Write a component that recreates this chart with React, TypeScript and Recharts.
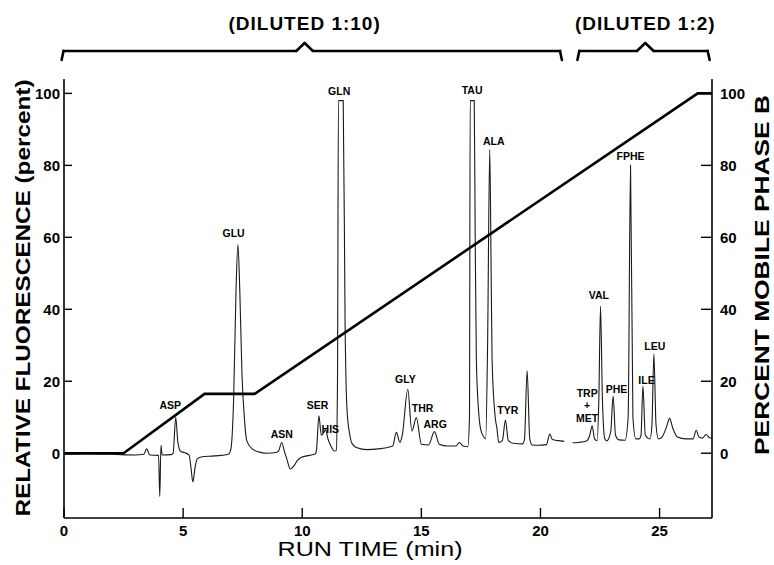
import { ComposedChart, Line, XAxis, YAxis, ReferenceLine, ReferenceDot } from "recharts";

const xTicks = [0, 5, 10, 15, 20, 25];
const yTicks = [0, 20, 40, 60, 80, 100];

// fluorescence trace, [run time (min), relative fluorescence (%)]; null = gap between the two injections
const trace: [number, number | null][] = [
  [0, -0.3], [1.0, -0.2], [2.0, -0.3], [3.0, -0.5], [3.35, -0.3], [3.47, 1.2], [3.6, -0.5],
  [3.97, -0.6], [4.02, -12], [4.07, 2.2], [4.12, -0.5], [4.5, -0.4],
  [4.58, 0], [4.69, 10], [4.78, 3], [4.9, 0.5], [5.05, 0.2],
  [5.25, -0.5], [5.33, -4], [5.41, -8], [5.5, -4], [5.6, -1.5], [5.8, -1], [6.2, -0.8], [6.6, -0.6], [6.9, -0.3],
  [7.0, 1], [7.12, 15], [7.22, 45], [7.3, 58], [7.38, 45], [7.47, 22], [7.58, 9], [7.67, 3.5], [7.9, 1.2], [8.2, 0.3],
  [8.5, 0], [8.9, 0.2], [9.0, 0.5], [9.14, 3], [9.25, 0.5], [9.35, -1.5], [9.5, -4.4], [9.65, -3.5],
  [9.8, -2], [9.95, -1.2], [10.3, -0.6], [10.55, -0.2],
  [10.6, 1], [10.7, 10.4], [10.8, 5], [10.88, 5.5], [10.98, 6.5], [11.08, 4], [11.2, 2], [11.35, 0.6], [11.43, 0.8],
  [11.48, 20], [11.52, 98], [11.72, 98], [11.8, 35], [11.88, 12], [12.0, 5], [12.1, 2.6], [12.3, 1.5],
  [12.7, 1.0], [13.2, 1.2], [13.7, 1.8], [13.8, 2], [13.95, 5.8], [14.1, 3],
  [14.2, 5], [14.43, 17.8], [14.6, 6.2], [14.79, 9.9], [15.0, 2.5],
  [15.3, 2.3], [15.55, 6], [15.75, 2.5], [16.1, 2], [16.45, 2], [16.6, 3], [16.75, 2], [16.95, 1.8],
  [17.02, 10], [17.05, 98], [17.22, 98], [17.26, 60], [17.31, 25.6], [17.4, 12], [17.48, 7], [17.62, 4.5],
  [17.7, 4], [17.78, 30], [17.87, 84.4], [17.93, 50], [17.97, 25.6], [18.1, 10], [18.17, 7], [18.25, 3],
  [18.4, 3.5], [18.53, 9.2], [18.65, 3.5], [18.9, 2.7], [19.25, 2.6],
  [19.33, 4], [19.44, 23], [19.55, 4], [19.65, 2.3], [19.9, 2.2], [20.25, 2.4],
  [20.39, 5.3], [20.5, 3.8], [20.75, 3.5], [21.0, 3.3], [21.15, null],
  [21.35, 2.9], [21.6, 3], [21.95, 3.5], [22.07, 5], [22.17, 7.6], [22.27, 4], [22.38, 3.5],
  [22.45, 15], [22.52, 40.8], [22.6, 15], [22.7, 4], [22.78, 3.4],
  [22.95, 6], [23.05, 15.9], [23.15, 5], [23.3, 3.7], [23.55, 3.6],
  [23.68, 10], [23.78, 80], [23.88, 10], [24.0, 4], [24.15, 4],
  [24.22, 5], [24.3, 18.7], [24.4, 5], [24.6, 4], [24.68, 8], [24.76, 27.6], [24.85, 8], [24.95, 4],
  [25.1, 4.5], [25.3, 7.5], [25.42, 9.7], [25.55, 7], [25.75, 4.5], [26.1, 4], [26.4, 4],
  [26.54, 6.4], [26.65, 4.5], [26.8, 4.2], [26.95, 5.2], [27.1, 4.3], [27.2, 4.2],
];

// gradient programme, [run time (min), percent mobile phase B]
const gradient: [number, number][] = [
  [0, 0], [2.5, 0], [5.9, 16.5], [8, 16.5], [26.6, 100], [27.2, 100],
];

// peak names, [label, time, height of label]
const peakLabels: [string, number, number][] = [
  ["ASP", 4.46, 13.4], ["GLU", 7.12, 61], ["ASN", 9.14, 5.2], ["SER", 10.64, 13.2], ["HIS", 11.18, 6.6],
  ["GLN", 11.55, 100.6], ["GLY", 14.33, 20.6], ["THR", 15.05, 12.4], ["ARG", 15.58, 8],
  ["TAU", 17.13, 100.8], ["ALA", 18.04, 86.8], ["TYR", 18.63, 11.8],
  ["TRP", 21.96, 16.8], ["+", 21.96, 13.2], ["MET", 21.96, 9.8],
  ["VAL", 22.45, 43.8], ["PHE", 23.19, 17.9], ["FPHE", 23.78, 82.6], ["ILE", 24.45, 20.2], ["LEU", 24.8, 29.8],
];

// sample dilution brackets, [from, to, middle (min)]
const brackets: [number, number, number][] = [
  [-0.1, 20.9, 10.1],
  [21.55, 27.1, 24.4],
];
const bracketTitles = ["(DILUTED  1:10)", "(DILUTED  1:2)"];

const traceData = trace.map(([t, v]) => ({ t, v }));
const gradientData = gradient.map(([t, b]) => ({ t, b }));

const FONT = "'Liberation Sans', Arial, Helvetica, sans-serif";
const DOMAIN: [number, number] = [-18, 104];

function bracketSegments(from: number, to: number, mid: number) {
  const lo = 109.3, hi = 111.8, top = 114;
  const pts = [
    [from, lo], [from + 0.08, hi], [mid - 0.35, hi], [mid, top], [mid + 0.35, hi], [to - 0.08, hi], [to, lo],
  ];
  return pts.slice(1).map((p, i) => [
    { x: pts[i][0], y: pts[i][1] },
    { x: p[0], y: p[1] },
  ]);
}

export default function App() {
  return (
    <div style={{ position: "fixed", left: 0, top: 0, width: 774, height: 565, background: "#fff", fontFamily: FONT }}>
      <ComposedChart width={774} height={565} margin={{ top: 79, right: 2, bottom: 17, left: 4 }}>
        <XAxis
          type="number"
          dataKey="t"
          domain={[0, 27.2]}
          ticks={xTicks}
          allowDataOverflow
          height={30}
          tickSize={-10}
          tickMargin={17}
          axisLine={{ stroke: "#000", strokeWidth: 1.6 }}
          tickLine={{ stroke: "#000", strokeWidth: 1.4 }}
          tick={{ fill: "#000", fontSize: 15, fontWeight: 700, fontFamily: FONT }}
        />
        <YAxis
          yAxisId="left"
          domain={DOMAIN}
          ticks={yTicks}
          allowDataOverflow
          width={60}
          tickSize={-8}
          tickMargin={12}
          axisLine={{ stroke: "#000", strokeWidth: 1.6 }}
          tickLine={{ stroke: "#000", strokeWidth: 1.4 }}
          tick={{ fill: "#000", fontSize: 15, fontWeight: 700, fontFamily: FONT }}
        />
        <YAxis
          yAxisId="right"
          orientation="right"
          domain={DOMAIN}
          ticks={yTicks}
          allowDataOverflow
          width={60}
          tickSize={-11}
          tickMargin={19}
          axisLine={{ stroke: "#000", strokeWidth: 1.6 }}
          tickLine={{ stroke: "#000", strokeWidth: 1.4 }}
          tick={{ fill: "#000", fontSize: 15, fontWeight: 700, fontFamily: FONT }}
        />
        <Line
          yAxisId="left"
          data={traceData}
          dataKey="v"
          type="monotone"
          stroke="#1a1a1a"
          strokeWidth={1.1}
          dot={false}
          connectNulls={false}
          isAnimationActive={false}
        />
        <Line
          yAxisId="right"
          data={gradientData}
          dataKey="b"
          type="linear"
          stroke="#000"
          strokeWidth={2.6}
          dot={false}
          isAnimationActive={false}
        />
        {brackets.map(([from, to, mid], bi) =>
          bracketSegments(from, to, mid).map((seg, si) => (
            <ReferenceLine
              key={`b${bi}-${si}`}
              yAxisId="left"
              segment={seg}
              ifOverflow="visible"
              stroke="#000"
              strokeWidth={2.6}
              strokeLinecap="round"
            />
          ))
        )}
        {peakLabels.map(([name, t, y]) => (
          <ReferenceDot
            key={name}
            yAxisId="left"
            x={t}
            y={y}
            r={0}
            fill="none"
            stroke="none"
            ifOverflow="visible"
            label={{ value: name, position: "center", fontSize: 10.5, fontWeight: 700, fill: "#000", fontFamily: FONT }}
          />
        ))}
        {brackets.map(([, , mid], i) => (
          <ReferenceDot
            key={`title${i}`}
            yAxisId="left"
            x={mid}
            y={119.5}
            r={0}
            fill="none"
            stroke="none"
            ifOverflow="visible"
            label={{ value: bracketTitles[i], position: "center", fontSize: 19, fontWeight: 600, fill: "#000", fontFamily: FONT, letterSpacing: 1 }}
          />
        ))}
      </ComposedChart>
      <svg width={774} height={565} style={{ position: "absolute", left: 0, top: 0, pointerEvents: "none" }}>
        <text
          x={0}
          y={0}
          transform="translate(30 298) rotate(-90)"
          textAnchor="middle"
          fontSize={21}
          fontWeight={700}
          fontFamily={FONT}
          textLength={437}
          lengthAdjust="spacingAndGlyphs"
        >
          RELATIVE  FLUORESCENCE  (percent)
        </text>
        <text
          x={0}
          y={0}
          transform="translate(769 275) rotate(-90)"
          textAnchor="middle"
          fontSize={21}
          fontWeight={700}
          fontFamily={FONT}
          textLength={360}
          lengthAdjust="spacingAndGlyphs"
        >
          PERCENT  MOBILE  PHASE  B
        </text>
        <text
          x={370}
          y={556}
          textAnchor="middle"
          fontSize={20}
          fontFamily={FONT}
          textLength={185}
          lengthAdjust="spacingAndGlyphs"
        >
          RUN  TIME  (min)
        </text>
      </svg>
    </div>
  );
}
